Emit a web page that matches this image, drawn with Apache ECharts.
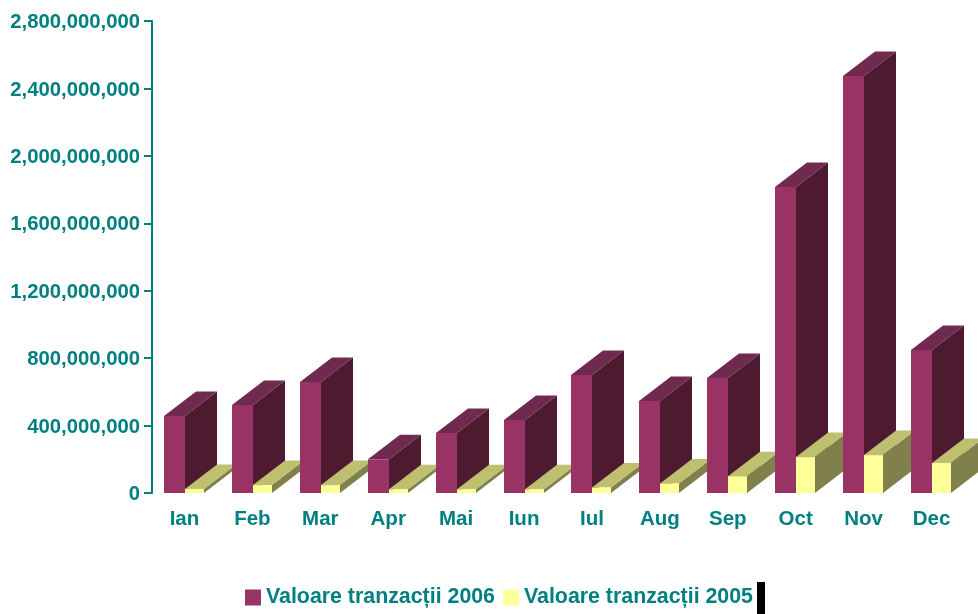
<!DOCTYPE html>
<html>
<head>
<meta charset="utf-8">
<style>html,body{margin:0;padding:0;background:#fff}#c{width:978px;height:614px}</style>
<script src="https://cdn.jsdelivr.net/npm/echarts@6/dist/echarts.min.js"></script>
</head>
<body>
<div id="c"></div>
<script>
const categories = ['Ian','Feb','Mar','Apr','Mai','Iun','Iul','Aug','Sep','Oct','Nov','Dec'];
const values2006 = [457e6,522e6,658e6,200e6,356e6,433e6,700e6,546e6,682e6,1815e6,2474e6,848e6];
const values2005 = [24e6,47e6,47e6,22e6,22e6,22e6,33e6,57e6,100e6,213e6,225e6,178e6];
const name2006 = 'Valoare tranzacții 2006';
const name2005 = 'Valoare tranzacții 2005';
const TEAL = '#008080';

function bar3d(colors, x0Off, x1Off, layer){
  return function(params, api){
    const i = api.value(0);
    const c = api.coord([i, api.value(1)]);
    const b = api.coord([i, 0]);
    const x0 = Math.round(c[0] + x0Off), x1 = Math.round(c[0] + x1Off), yt = c[1], yb = b[1];
    const dx = 32, dy = -24.5;
    const z2 = i * 2 + layer;
    return {type:'group', children:[
      {type:'polygon', z2:z2, shape:{points:[[x1,yt],[x1+dx,yt+dy],[x1+dx,yb+dy],[x1,yb]]}, style:{fill:colors[2]}},
      {type:'polygon', z2:z2, shape:{points:[[x0,yt],[x0+dx,yt+dy],[x1+dx,yt+dy],[x1,yt]]}, style:{fill:colors[1]}},
      {type:'rect', z2:z2, shape:{x:x0,y:yt,width:x1-x0,height:yb-yt}, style:{fill:colors[0]}}
    ]};
  };
}

const chart = echarts.init(document.getElementById('c'), null, {renderer:'canvas'});
chart.setOption({
  animation:false,
  backgroundColor:'#fff',
  textStyle:{fontFamily:'Liberation Sans'},
  grid:{left:152, right:11, top:21, bottom:121, containLabel:false},
  xAxis:{type:'category', data:categories, boundaryGap:true,
    axisLine:{show:false}, axisTick:{show:false},
    axisLabel:{color:TEAL, fontWeight:'bold', fontSize:20.5, fontFamily:'Liberation Sans', margin:16, interval:0, padding:[0,3,0,0]}},
  yAxis:{type:'value', min:0, max:2800000000, interval:400000000,
    axisLine:{show:true, lineStyle:{color:TEAL, width:2}},
    axisTick:{show:true, length:8, lineStyle:{color:TEAL, width:2}},
    splitLine:{show:false},
    axisLabel:{color:TEAL, fontWeight:'bold', fontSize:20.3, fontFamily:'Liberation Sans', margin:12,
      verticalAlign:'top', lineHeight:3,
      formatter:v => v.toLocaleString('en-US')}},
  legend:{left:240, top:582, icon:'rect', itemWidth:16, itemHeight:16, itemGap:8,
    textStyle:{color:TEAL, fontWeight:'bold', fontSize:21.35, fontFamily:'Liberation Sans', padding:[0,0,6,0]},
    data:[name2006, name2005]},
  series:[
    {type:'custom', name:name2006, coordinateSystem:'cartesian2d', clip:false,
     itemStyle:{color:'#993366'},
     encode:{x:0,y:1},
     renderItem:bar3d(['#993366','#702A50','#4D1A30'], -22, -1, 0),
     data:values2006.map((v,i)=>[i,v])},
    {type:'custom', name:name2005, coordinateSystem:'cartesian2d', clip:false,
     itemStyle:{color:'#FFFF99'},
     encode:{x:0,y:1},
     renderItem:bar3d(['#FFFF99','#BFBF70','#80804D'], -1, 18, 1),
     data:values2005.map((v,i)=>[i,v])}
  ],
  graphic:[{type:'rect', left:757, top:582, shape:{width:8,height:32}, style:{fill:'#000'}}]
});
</script>
</body>
</html>
